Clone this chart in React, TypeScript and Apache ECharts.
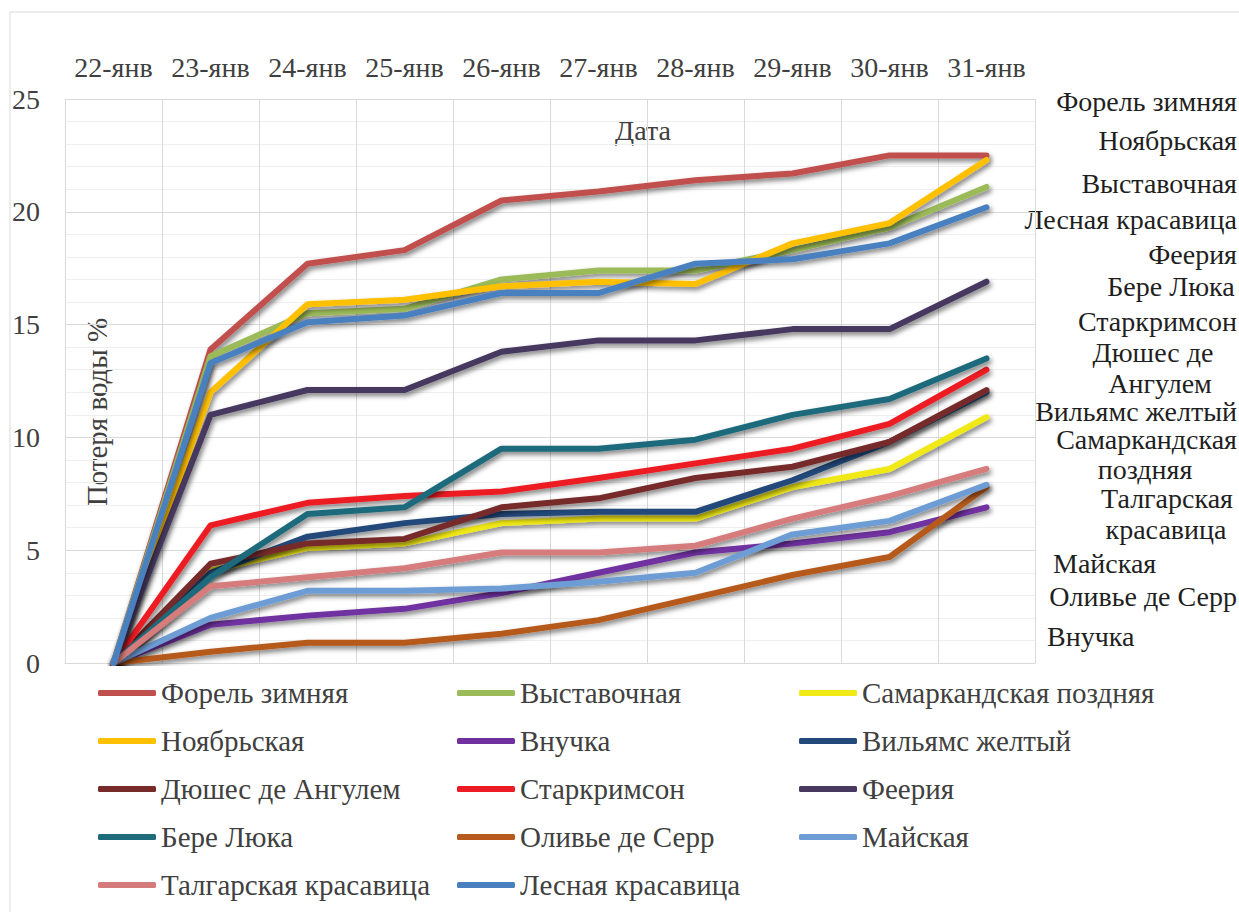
import React, { useEffect, useRef } from "react";
import * as echarts from "echarts";

const dates = ["22-янв", "23-янв", "24-янв", "25-янв", "26-янв", "27-янв", "28-янв", "29-янв", "30-янв", "31-янв"];

const forel = [0, 13.9, 17.7, 18.3, 20.5, 20.9, 21.4, 21.7, 22.5, 22.5];
const vystavochnaya = [0, 13.6, 15.5, 15.7, 17.0, 17.4, 17.4, 18.3, 19.3, 21.1];
const samarkand = [0, 4.1, 5.1, 5.3, 6.2, 6.4, 6.4, 7.8, 8.6, 10.9];
const noyabrskaya = [0, 12.0, 15.9, 16.1, 16.7, 16.9, 16.8, 18.6, 19.5, 22.3];
const vnuchka = [0, 1.7, 2.1, 2.4, 3.1, 4.0, 4.9, 5.3, 5.8, 6.9];
const vilyams = [0, 4.0, 5.6, 6.2, 6.6, 6.7, 6.7, 8.1, 9.8, 12.0];
const dyushes = [0, 4.4, 5.3, 5.5, 6.9, 7.3, 8.2, 8.7, 9.8, 12.1];
const starkrimson = [0, 6.1, 7.1, 7.4, 7.6, 8.2, 8.85, 9.5, 10.6, 13.0];
const feeriya = [0, 11.0, 12.1, 12.1, 13.8, 14.3, 14.3, 14.8, 14.8, 16.9];
const bereLyuka = [0, 3.8, 6.6, 6.9, 9.5, 9.5, 9.9, 11.0, 11.7, 13.5];
const olivye = [0, 0.5, 0.9, 0.9, 1.3, 1.9, 2.9, 3.9, 4.7, 7.8];
const mayskaya = [0, 2.0, 3.2, 3.2, 3.3, 3.6, 4.0, 5.7, 6.3, 7.9];
const talgarskaya = [0, 3.4, 3.8, 4.2, 4.9, 4.9, 5.2, 6.4, 7.4, 8.6];
const lesnaya = [0, 13.3, 15.1, 15.4, 16.4, 16.4, 17.7, 17.9, 18.6, 20.2];

const seriesDefs = [
  { name: "Форель зимняя", data: forel, color: "#C0504D" },
  { name: "Выставочная", data: vystavochnaya, color: "#9BBB59" },
  { name: "Самаркандская поздняя", data: samarkand, color: "#F0E916" },
  { name: "Ноябрьская", data: noyabrskaya, color: "#FFC000" },
  { name: "Внучка", data: vnuchka, color: "#7030A0" },
  { name: "Вильямс желтый", data: vilyams, color: "#22497A" },
  { name: "Дюшес де Ангулем", data: dyushes, color: "#772C2A" },
  { name: "Старкримсон", data: starkrimson, color: "#ED1C24" },
  { name: "Феерия", data: feeriya, color: "#46385E" },
  { name: "Бере Люка", data: bereLyuka, color: "#1E6B7B" },
  { name: "Оливье де Серр", data: olivye, color: "#B65A1E" },
  { name: "Майская", data: mayskaya, color: "#6D9DD4" },
  { name: "Талгарская красавица", data: talgarskaya, color: "#D67B7B" },
  { name: "Лесная красавица", data: lesnaya, color: "#4A80C0" },
];

const legendCol1 = ["Форель зимняя", "Ноябрьская", "Дюшес де Ангулем", "Бере Люка", "Талгарская красавица"];
const legendCol2 = ["Выставочная", "Внучка", "Старкримсон", "Оливье де Серр", "Лесная красавица"];
const legendCol3 = ["Самаркандская поздняя", "Вильямс желтый", "Феерия", "Майская"];

// side labels: [text, x, y, align]
const sideLabels: [string, number, number, string][] = [
  ["Форель зимняя", 1237, 101, "right"],
  ["Ноябрьская", 1237, 140, "right"],
  ["Выставочная", 1237, 183, "right"],
  ["Лесная красавица", 1237, 219, "right"],
  ["Феерия", 1237, 254, "right"],
  ["Бере Люка", 1171, 286, "center"],
  ["Старкримсон", 1237, 321, "right"],
  ["Дюшес де", 1153, 352, "center"],
  ["Ангулем", 1160, 383, "center"],
  ["Вильямс желтый", 1237, 411, "right"],
  ["Самаркандская", 1237, 439, "right"],
  ["поздняя", 1145, 469, "center"],
  ["Талгарская", 1167, 498, "center"],
  ["красавица", 1166, 529, "center"],
  ["Майская", 1053, 563, "left"],
  ["Оливье де Серр", 1237, 596, "right"],
  ["Внучка", 1047, 636, "left"],
];

const FONT = "Liberation Serif, Times New Roman, serif";

export default function App() {
  const ref = useRef<HTMLDivElement>(null);
  useEffect(() => {
    if (!ref.current) return;
    const chart = echarts.init(ref.current, null, { renderer: "svg" });
    const legendBase = {
      orient: "vertical",
      top: 678,
      padding: 0,
      itemWidth: 58,
      itemHeight: 6,
      itemGap: 18,
      icon: "roundRect",
      textStyle: { fontFamily: FONT, fontSize: 29, color: "#404040", lineHeight: 30 },
    };
    chart.setOption({
      animation: false,
      backgroundColor: "#ffffff",
      grid: { left: 65, right: 204, top: 99, bottom: 249 },
      xAxis: {
        type: "category",
        position: "top",
        data: dates,
        boundaryGap: true,
        axisLine: { show: true, lineStyle: { color: "#d9d9d9" } },
        axisTick: { show: true, interval: 0, length: 7, lineStyle: { color: "#d9d9d9" } },
        axisLabel: { interval: 0, fontFamily: FONT, fontSize: 28, color: "#404040", margin: 18 },
        splitLine: { show: true, interval: 0, lineStyle: { color: "#d9d9d9", width: 1 } },
      },
      yAxis: {
        type: "value",
        min: 0,
        max: 25,
        interval: 5,
        axisLine: { show: false },
        axisTick: { show: false },
        axisLabel: { fontFamily: FONT, fontSize: 28, color: "#404040", margin: 25 },
        splitLine: { show: true, lineStyle: { color: "#d9d9d9", width: 1 } },
        minorTick: { show: false, splitNumber: 5 },
        minorSplitLine: { show: true, lineStyle: { color: "#efefef", width: 1 } },
      },
      legend: [
        { ...legendBase, left: 98, data: legendCol1 },
        { ...legendBase, left: 457, data: legendCol2 },
        { ...legendBase, left: 799, data: legendCol3 },
      ],
      series: seriesDefs.map((s) => ({
        name: s.name,
        type: "line",
        data: s.data,
        showSymbol: false,
        symbol: "none",
        color: s.color,
        lineStyle: {
          width: 6,
          color: s.color,
          cap: "round",
          join: "round",
          shadowColor: "rgba(0,0,0,0.5)",
          shadowBlur: 5,
          shadowOffsetX: 2,
          shadowOffsetY: 3,
        },
      })),
      graphic: [
        {
          type: "rect",
          shape: { x: 10, y: 12, width: 1400, height: 1000 },
          style: { fill: "none", stroke: "#d9d9d9", lineWidth: 1 },
          silent: true,
        },
        {
          type: "text",
          x: 643,
          y: 130,
          style: { text: "Дата", fontFamily: FONT, fontSize: 28, fill: "#404040", align: "center", verticalAlign: "middle" },
        },
        {
          type: "text",
          x: 97,
          y: 412,
          rotation: Math.PI / 2,
          style: { text: "Потеря воды %", fontFamily: FONT, fontSize: 29, fill: "#404040", align: "center", verticalAlign: "middle" },
        },
        ...sideLabels.map(([t, x, y, a]) => ({
          type: "text",
          x,
          y,
          style: { text: t, fontFamily: FONT, fontSize: 28, fill: "#1f1f1f", align: a, verticalAlign: "middle" },
        })),
      ],
    });
    return () => chart.dispose();
  }, []);
  return <div ref={ref} style={{ position: "absolute", left: 0, top: 0, width: 1239, height: 912 }} />;
}
